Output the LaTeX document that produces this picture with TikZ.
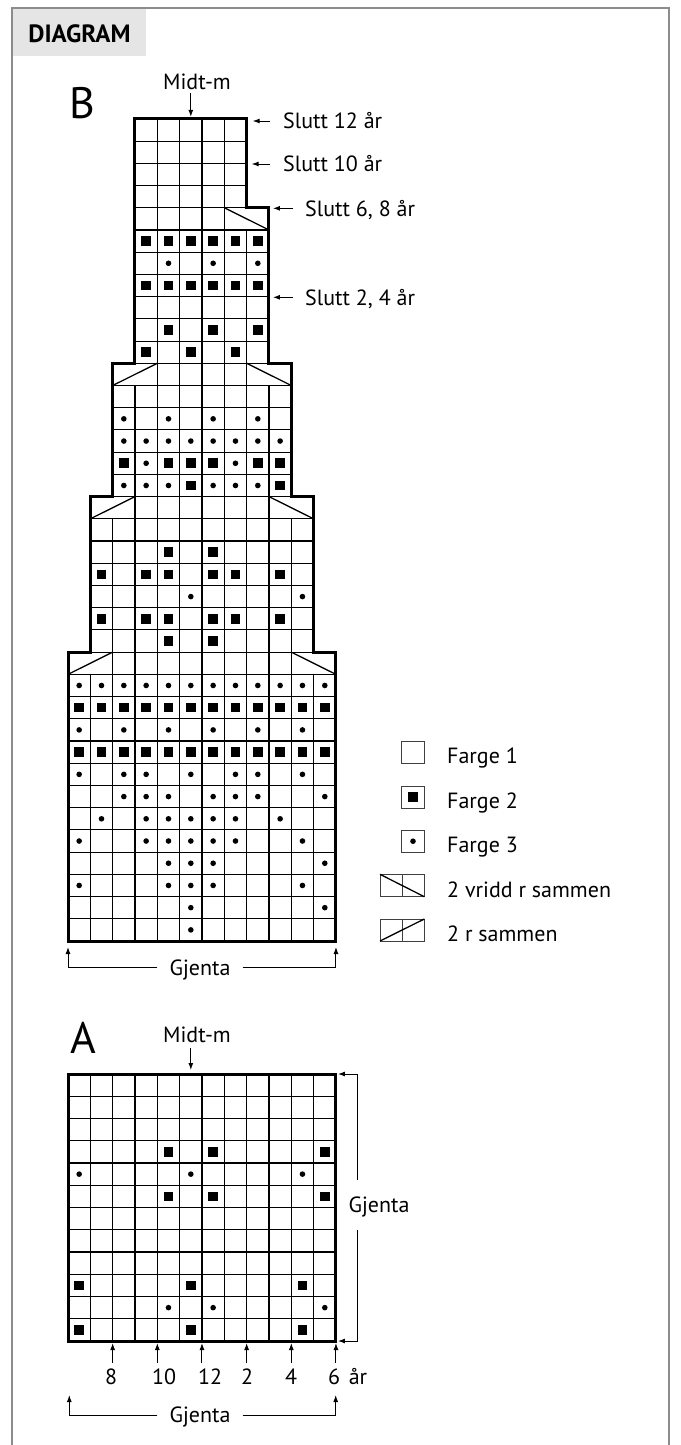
\documentclass[tikz,border=0pt]{standalone}
\usepackage{fontspec}
\setmainfont{PT Sans}
\usetikzlibrary{arrows.meta,positioning}

% one chart cell: filled square / dot, (column, row) counted from 1
\newcommand{\chsq}[2]{\fill[shift={({#1-.5},{#2-.5})}] (-4.8pt,-4.8pt) rectangle (4.8pt,4.8pt);}
\newcommand{\chdot}[2]{\fill ({#1-.5},{#2-.5}) circle (2.8pt);}
\newcommand{\chgrid}[4]{%
  \foreach \gx in {#1,...,#3} {\draw[gridln] (\gx,#2) -- (\gx,#4);}
  \foreach \gy in {#2,...,#4} {\draw[gridln] (#1,\gy) -- (#3,\gy);}}

\begin{document}
\begin{tikzpicture}[
  x=1pt, y=1pt, >={Latex[length=7pt,width=5pt]},
  lbl/.style={font=\fontsize{22}{26}\selectfont, inner sep=0pt,
              text height=15.4pt, text depth=0pt},
  big/.style={font=\fontsize{44}{50}\selectfont, inner sep=0pt},
  hdr/.style={font=\fontsize{25}{30}\selectfont\bfseries, inner sep=0pt,
              text height=17.5pt, text depth=0pt},
  gjenta/.style={lbl, inner xsep=12pt},
  gridln/.style={line width=1.1pt},
  edge/.style={line width=3pt},
  dec/.style={line width=1.3pt},
  arr/.style={->, line width=1pt},
  frame/.style={draw=black!45, line width=1.3pt},
  leg/.style={draw=black!75, line width=1pt},
]
  \useasboundingbox (0,0) rectangle (680,-1445);

  % frame and header
  \fill[black!10] (12,-8) rectangle (146,-56);
  \draw[frame] (12,-1445) -- (12,-8) -- (669,-8) -- (669,-1445);
  \node[hdr] (title) at (79.5,-33.7) {DIAGRAM};

  % chart B
  \begin{scope}[shift={(68pt,-941pt)}, x=22.33pt, y=22.22pt]
    \chgrid{0}{0}{12}{12}
    \chgrid{1}{13}{11}{19}
    \chgrid{2}{20}{10}{25}
    \chgrid{3}{26}{9}{32}
    \chgrid{3}{33}{8}{37}
    \foreach \x in {2,...,10} {\draw[gridln] (\x,12) -- (\x,13);}
    \foreach \x in {3,...,9} {\draw[gridln] (\x,19) -- (\x,20);}
    \foreach \x in {4,...,8} {\draw[gridln] (\x,25) -- (\x,26);}
    \foreach \x in {4,...,7} {\draw[gridln] (\x,32) -- (\x,33);}
    \draw[dec] (0,12) -- (2,13) (10,13) -- (12,12);
    \draw[dec] (1,19) -- (3,20) (9,20) -- (11,19);
    \draw[dec] (2,25) -- (4,26) (8,26) -- (10,25);
    \draw[dec] (7,33) -- (9,32);

    \foreach \r/\cl in {9/{1,...,12}, 11/{1,...,12}, 14/{5,7}, 15/{2,4,5,7,8,10},
        17/{2,4,5,7,8,10}, 18/{5,7}, 21/{6,10}, 22/{3,5,6,7,9,10},
        27/{4,6,8}, 28/{5,7,9}, 30/{4,...,9}, 32/{4,...,9}}
      {\foreach \c in \cl {\chsq{\c}{\r}}}
    \foreach \r/\cl in {1/{6}, 2/{6,12}, 3/{1,5,6,7,11}, 4/{5,6,7,12},
        5/{1,4,5,6,7,8,11}, 6/{2,4,5,6,7,8,10}, 7/{3,4,5,7,8,9,12},
        8/{1,3,4,6,8,9,11}, 10/{1,3,5,7,9,11}, 12/{1,...,12}, 16/{6,11},
        21/{3,4,5,7,8,9}, 22/{4,8}, 23/{3,...,10}, 24/{3,5,7,9}, 31/{5,7,9}}
      {\foreach \c in \cl {\chdot{\c}{\r}}}

    \draw[edge] (0,0) -- (12,0) -- (12,13) -- (11,13) -- (11,20) -- (10,20)
      -- (10,26) -- (9,26) -- (9,33) -- (8,33) -- (8,37) -- (3,37) -- (3,26)
      -- (2,26) -- (2,20) -- (1,20) -- (1,13) -- (0,13) -- cycle;

    \coordinate (b12) at (8,37);
    \coordinate (b10) at (8,35);
    \coordinate (b68) at (9,33);
    \coordinate (b24) at (9,29);
    \coordinate (bmid) at (5.5,37);
    \coordinate (bbl) at (0,0);
    \coordinate (bbr) at (12,0);
  \end{scope}

  \node[big] (letB) at (82,-103) {B};
  \node[lbl] (midB) at (197,-81.7) {Midt-m};
  \draw[arr, shorten <=3.6pt, shorten >=2pt] (midB.south -| bmid) -- (bmid);

  \node[lbl, anchor=west] (s12) at (283,-121) {Slutt 12 år};
  \node[lbl, anchor=west] (s10) at (283,-164) {Slutt 10 år};
  \node[lbl, anchor=west] (s68) at (305,-208.3) {Slutt 6, 8 år};
  \node[lbl, anchor=west] (s24) at (305,-297.3) {Slutt 2, 4 år};
  \draw[arr, shorten <=13pt, shorten >=6pt] (s12.west) -- (s12.west -| b12);
  \draw[arr, shorten <=13pt, shorten >=5pt] (s10.west) -- (s10.west -| b10);
  \draw[arr, shorten <=12pt, shorten >=4pt] (s68.west) -- (s68.west -| b68);
  \draw[arr, shorten <=12pt, shorten >=4pt] (s24.west) -- (s24.west -| b24);

  \node[gjenta] (gjB) at (200,-967.7) {Gjenta};
  \draw[arr, shorten >=6pt] (gjB.west) -| (bbl);
  \draw[arr, shorten >=6pt] (gjB.east) -| (bbr);

  % legend
  \draw[leg] (401.7,-741) rectangle (424.3,-763.3);
  \draw[leg] (401.7,-786) rectangle (424.3,-808.3);
  \fill (408.1,-792.2) rectangle (417.9,-802.2);
  \draw[leg] (401.7,-830) rectangle (424.3,-852.3);
  \fill (413,-841.2) circle (2.8pt);
  \draw[leg] (380,-874.3) rectangle (424.3,-896.7) (402.15,-874.3) -- (402.15,-896.7);
  \draw[dec] (380,-874.3) -- (424.3,-896.7);
  \draw[leg] (380,-919) rectangle (424.3,-941) (402.15,-919) -- (402.15,-941);
  \draw[dec] (380,-941) -- (424.3,-919);
  \node[lbl, anchor=west] (f1) at (447,-756.2) {Farge 1};
  \node[lbl, anchor=west] (f2) at (447,-801.2) {Farge 2};
  \node[lbl, anchor=west] (f3) at (447,-845.2) {Farge 3};
  \node[lbl, anchor=west] (vr) at (447,-889.5) {2 vridd r sammen};
  \node[lbl, anchor=west] (rs) at (447,-934) {2 r sammen};

  % chart A
  \begin{scope}[shift={(68pt,-1341pt)}, x=22.33pt, y=22.25pt]
    \chgrid{0}{0}{12}{12}
    \foreach \r/\cl in {9/{5,7,12}, 7/{5,7,12}, 3/{1,6,11}, 1/{1,6,11}}
      {\foreach \c in \cl {\chsq{\c}{\r}}}
    \foreach \r/\cl in {8/{1,6,11}, 2/{5,7,12}}
      {\foreach \c in \cl {\chdot{\c}{\r}}}
    \draw[edge] (0,0) rectangle (12,12);
    \coordinate (amid) at (5.5,12);
    \coordinate (atr) at (12,12);
    \coordinate (abr) at (12,0);
    \foreach \i in {2,4,...,12} {
      \coordinate (yr\i) at (\i,0);
      \draw[arr, shorten >=2pt] ([yshift=-21.7pt]yr\i) -- (yr\i);
    }
  \end{scope}

  \node[big] (letA) at (83,-1037.5) {A};
  \node[lbl] (midA) at (197,-1035) {Midt-m};
  \draw[arr, shorten <=5pt, shorten >=4pt] (midA.south -| amid) -- (amid);

  \coordinate (brt) at (357.7,-1074);
  \coordinate (brb) at (357.7,-1341);
  \node[lbl, inner ysep=17pt] (gjR) at (379,-1205) {Gjenta};
  \draw[arr, shorten >=2pt] (gjR.north -| brt) -- (brt) -- (atr);
  \draw[arr, shorten >=2pt] (gjR.south -| brb) -- (brb) -- (abr);

  \node[lbl] (y8) at (111,-1377) {8};
  \node[lbl] (y10) at (164,-1377) {10};
  \node[lbl] (y12) at (210,-1377) {12};
  \node[lbl] (y2) at (247,-1377) {2};
  \node[lbl] (y4) at (291,-1377) {4};
  \node[lbl] (y6) at (334,-1377) {6};
  \node[lbl] (yar) at (358,-1377) {år};

  \coordinate (gl) at (69.3,-1395);
  \coordinate (gr) at (335.7,-1395);
  \node[gjenta] (gjA) at (200,-1415) {Gjenta};
  \draw[arr] (gjA.west) -| (gl);
  \draw[arr] (gjA.east) -| (gr);
\end{tikzpicture}
\end{document}
